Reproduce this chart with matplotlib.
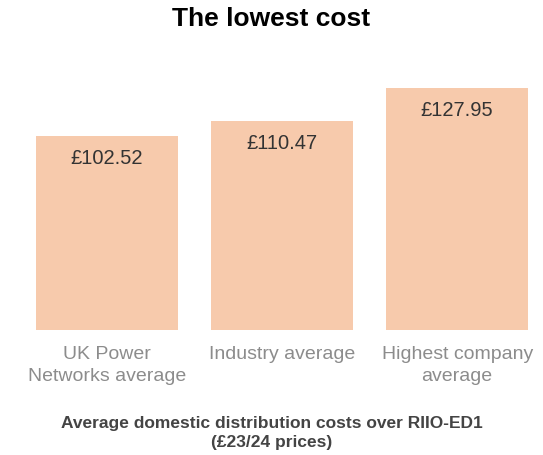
import matplotlib
matplotlib.use('Agg')
from matplotlib import pyplot as plt

plt.rcParams['font.family'] = ['Liberation Sans', 'DejaVu Sans']

categories = ['UK Power\nNetworks average', 'Industry average', 'Highest company\naverage']
costs = [102.52, 110.47, 127.95]
value_labels = ['£102.52', '£110.47', '£127.95']

fig = plt.figure(figsize=(5.43, 4.56), dpi=100)
ax = fig.add_axes([0.052, 0.274, 0.935, 0.53])

x = range(len(costs))
ax.bar(x, costs, width=0.81, color='#F7CAAC')
for i, v in enumerate(costs):
	ax.annotate(value_labels[i], (i, v), xytext=(0, -15), textcoords='offset points',
		ha='center', va='center', fontsize=14.5, color='#333333')

ax.set_xlim(-0.45, 2.45)
ax.set_ylim(0, 127.95)
ax.set_xticks(list(x))
ax.set_xticklabels(categories, fontsize=14, color='#8c8c8c', linespacing=1.35, va='top')
ax.tick_params(axis='x', length=0, pad=11)
ax.set_yticks([])
for s in ax.spines.values():
	s.set_visible(False)

fig.text(0.5, 0.958, 'The lowest cost', ha='center', va='center', fontsize=19, fontweight='bold', color='black')
fig.text(0.5, 0.05, 'Average domestic distribution costs over RIIO-ED1\n(£23/24 prices)',
	ha='center', va='center', fontsize=12.5, fontweight='bold', color='#444444', linespacing=1.3)

fig.savefig('out.png', dpi=100)
